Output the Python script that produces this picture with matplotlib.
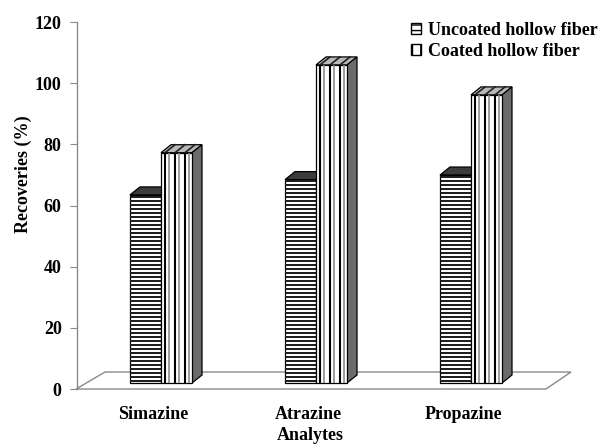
import numpy as np
import matplotlib.pyplot as plt
from matplotlib.patches import Polygon, Patch

plt.rcParams['font.family'] = ['Liberation Serif', 'DejaVu Serif']

analytes = ['Simazine', 'Atrazine', 'Propazine']
uncoated = [61.5, 66.5, 68.0]
coated = [75.3, 104.0, 94.2]
series_names = ['Uncoated hollow fiber', 'Coated hollow fiber']

# figure / axes layout (pixels at dpi 100)
W, H = 600, 444
fig = plt.figure(figsize=(W / 100, H / 100), dpi=100)
ax_left, ax_right, ax_bot, ax_top = 77, 580, 389, 22
ax = fig.add_axes([ax_left / W, 1 - ax_bot / H, (ax_right - ax_left) / W, (ax_bot - ax_top) / H])

px_x = 155.0          # pixels per category
px_y = (ax_bot - ax_top) / 120.0
ax.set_xlim((ax_left - 161) / px_x, (ax_right - 161) / px_x)
ax.set_ylim(0, 120)

bw = 31 / px_x        # bar width
base = 6 / px_y       # bars sit a bit back on the floor
ddx, ddy = 10 / px_x, 8 / px_y   # bar depth

# floor
floor = Polygon([(-0.548, 0), (-0.361, 17 / px_y), (2.645, 17 / px_y), (2.484, 0)],
                closed=True, facecolor='white', edgecolor='#8a8a8a', lw=1.0,
                clip_on=False, zorder=1)
ax.add_patch(floor)


def box(x0, x1, top, zo):
    front = Polygon([(x0, base), (x0, top), (x1, top), (x1, base)], closed=True,
                    facecolor='white', edgecolor='black', lw=0.9, zorder=zo + 0.5, clip_on=False)
    topf = Polygon([(x0, top), (x0 + ddx, top + ddy), (x1 + ddx, top + ddy), (x1, top)],
                   closed=True, edgecolor='black', lw=0.9, zorder=zo, clip_on=False)
    side = Polygon([(x1, base), (x1 + ddx, base + ddy), (x1 + ddx, top + ddy), (x1, top)],
                   closed=True, facecolor='#6b6b6b', edgecolor='black', lw=0.9, zorder=zo,
                   clip_on=False)
    ax.add_patch(front)
    ax.add_patch(topf)
    ax.add_patch(side)
    return front, topf


for i, (u, c) in enumerate(zip(uncoated, coated)):
    # uncoated bar: horizontal stripes
    x0, x1 = i - bw, i
    front, topf = box(x0, x1, base + u, 3)
    topf.set_facecolor('#3c3c3c')
    ys = np.arange(base + 2.2 / px_y, base + u - 0.5 / px_y, 4 / px_y)
    ax.hlines(ys, x0, x1, color='#1a1a1a', lw=1.4, zorder=3.6)

    # coated bar: vertical stripes
    x0, x1 = i, i + bw
    front, topf = box(x0, x1, base + c, 5)
    topf.set_facecolor('#b8b8b8')
    for k in range(3):
        xb = x0 + (4 + 10 * k) / px_x
        xg = x0 + (7.5 + 10 * k) / px_x
        ax.vlines(xb, base, base + c, color='black', lw=1.5, zorder=5.6)
        ax.vlines(xg, base, base + c, color='#8c8c8c', lw=1.2, zorder=5.6)
        ax.plot([xb, xb + ddx], [base + c, base + c + ddy], color='#202020', lw=1.2,
                zorder=5.2, clip_on=False)

# axes styling
for s in ['top', 'right', 'bottom']:
    ax.spines[s].set_visible(False)
ax.spines['left'].set_color('#8a8a8a')
ax.spines['left'].set_linewidth(1.0)
ax.set_yticks(np.arange(0, 121, 20))
ax.tick_params(axis='y', length=5, color='#8a8a8a', pad=6, labelsize=13)
for t in ax.get_yticklabels():
    t.set_fontweight('bold')

ax.set_xticks(np.arange(len(analytes)) - 0.05)
ax.set_xticklabels(analytes, fontsize=13, fontweight='bold')
ax.tick_params(axis='x', length=0, pad=12)

ax.set_ylabel('Recoveries (%)', fontsize=13, fontweight='bold')
ax.yaxis.set_label_coords((32 - ax_left) / (ax_right - ax_left), (ax_bot - 174) / (ax_bot - ax_top))
ax.set_xlabel('Analytes', fontsize=13, fontweight='bold')
ax.xaxis.set_label_coords((310 - ax_left) / (ax_right - ax_left), -(435 - ax_bot) / (ax_bot - ax_top))
ax.xaxis.label.set_verticalalignment('center')

handles = [Patch(facecolor='white', edgecolor='black', hatch='---', label=series_names[0]),
           Patch(facecolor='white', edgecolor='black', hatch='||', label=series_names[1])]
leg = ax.legend(handles=handles, loc='upper left',
                bbox_to_anchor=((395 - ax_left) / (ax_right - ax_left), 1.045),
                frameon=False, handlelength=0.55, handleheight=0.55, handletextpad=0.4,
                labelspacing=0.25, prop={'family': 'Liberation Serif', 'weight': 'bold', 'size': 13})

fig.savefig('out.png', dpi=100)
